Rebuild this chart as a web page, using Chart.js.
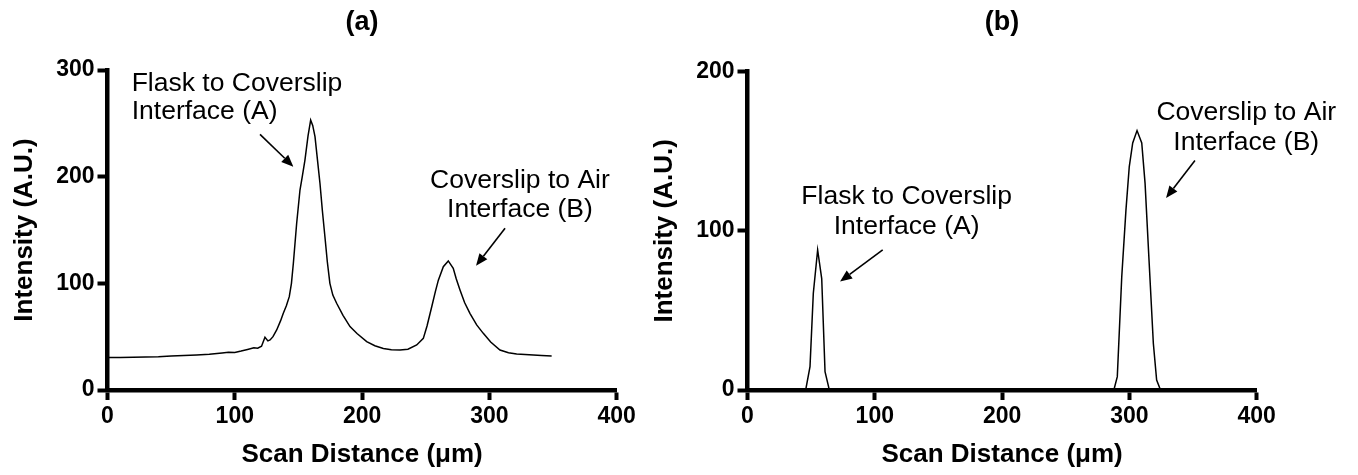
<!DOCTYPE html>
<html><head><meta charset="utf-8">
<script src="https://cdn.jsdelivr.net/npm/chart.js@4"></script>
<style>
html,body{margin:0;padding:0;background:#fff;width:1358px;height:475px;overflow:hidden}
.wrap{position:absolute;top:0;height:475px}
#wa{left:0;width:660px}#wb{left:640px;width:718px}
canvas{display:block}
</style></head><body>
<div class="wrap" id="wa"><canvas id="ca" width="660" height="475"></canvas></div>
<div class="wrap" id="wb"><canvas id="cb" width="718" height="475"></canvas></div>
<script>
// ---- data ----
const xTickValues = [0, 100, 200, 300, 400];
const aYTickValues = [0, 100, 200, 300];
const bYTickValues = [0, 100, 200];

// Panel (a): scan distance (µm) and intensity (A.U.)
const aX = [0, 10, 20, 30, 40, 50, 60, 70, 80, 90, 95, 100, 105, 110, 115, 118, 121, 123.7, 126, 127.7, 130, 132.9, 136, 138.1, 140.5, 142.8, 144.5, 146, 148.6, 151.2, 153, 155.1, 157.5, 159.6, 161.2, 163, 165, 166.9, 168.8, 170.8, 172.7, 174.7, 177, 180, 185, 190.5, 196, 203.6, 210, 216.7, 223, 229.8, 236, 242.9, 248.1, 251, 254.7, 257.5, 259.9, 263.8, 267.7, 271.6, 274, 276.9, 280.5, 284.7, 290, 295.2, 301, 308.3, 315, 321.4, 328, 334.5, 341, 348.9];
const aY = [30.5, 30.4, 30.8, 31, 31.2, 31.8, 32.3, 32.8, 33.5, 34.8, 35.5, 35.2, 36.5, 38, 39.5, 39.2, 41, 49.4, 46, 46.9, 50, 56.3, 65, 72, 79, 87.5, 100, 118.8, 156.3, 187.5, 200, 215.6, 238, 253, 248, 237.5, 215, 193.8, 168, 143.7, 120, 100, 89, 81.3, 70, 59.4, 53, 45.3, 41.5, 39, 37.8, 37.5, 38.2, 42.2, 48.4, 60, 78, 92, 103, 115.6, 121, 114.1, 104, 93.8, 82, 71.9, 61, 53.1, 45, 37.5, 35, 33.7, 33.2, 32.8, 32.3, 31.9];

// Panel (b)
const bX = [0, 45.7, 49.1, 51.7, 55.1, 58.3, 60.9, 64, 67.4, 100, 200, 288.1, 290.5, 294, 297.3, 299.9, 302.6, 306, 309.7, 312.3, 315.4, 318.8, 321.4, 324, 350];
const bY = [0, 0, 14.7, 60.8, 88, 70, 11.5, 1, 0.4, 0, 0, 1, 8.4, 71.3, 113.2, 140.4, 155.2, 163, 155.2, 130, 81.8, 29.4, 6.3, 1, 0];

const FONT = "'Liberation Sans', Arial, Helvetica, sans-serif";
Chart.defaults.font.family = FONT;
Chart.defaults.color = '#000';

const annotPlugin = {
  id: 'annot',
  afterDraw(chart, args, opts) {
    const ctx = chart.ctx, sx = chart.scales.x, sy = chart.scales.y;
    ctx.save();
    ctx.fillStyle = '#000';
    ctx.strokeStyle = '#000';
    ctx.font = "26.5px " + FONT;
    ctx.textBaseline = 'middle';
    for (const a of (opts.items || [])) {
      ctx.textAlign = a.align;
      a.lines.forEach((t, i) => ctx.fillText(t, sx.getPixelForValue(a.x), sy.getPixelForValue(a.y[i])));
      const x1 = sx.getPixelForValue(a.arrow[0]), y1 = sy.getPixelForValue(a.arrow[1]);
      const x2 = sx.getPixelForValue(a.arrow[2]), y2 = sy.getPixelForValue(a.arrow[3]);
      const ang = Math.atan2(y2 - y1, x2 - x1);
      const hl = 12, hw = 5;
      const bx = x2 - hl * Math.cos(ang), by = y2 - hl * Math.sin(ang);
      ctx.lineWidth = 1.6;
      ctx.beginPath(); ctx.moveTo(x1, y1); ctx.lineTo(bx, by); ctx.stroke();
      ctx.beginPath();
      ctx.moveTo(x2, y2);
      ctx.lineTo(bx + hw * Math.sin(ang), by - hw * Math.cos(ang));
      ctx.lineTo(bx - hw * Math.sin(ang), by + hw * Math.cos(ang));
      ctx.closePath(); ctx.fill();
    }
    ctx.restore();
  }
};

function makeChart(id, xs, ys, yMax, yTicks, title, titlePadBottom, padRight, items) {
  const data = xs.map((v, i) => ({x: v, y: ys[i]}));
  return new Chart(document.getElementById(id), {
    type: 'line',
    data: {datasets: [{data, borderColor: '#000', borderWidth: 1.5, pointRadius: 0, tension: 0, fill: false}]},
    options: {
      responsive: false,
      animation: false,
      layout: {padding: {left: 0, right: padRight, top: 0, bottom: 0}},
      plugins: {
        legend: {display: false},
        tooltip: {enabled: false},
        title: {display: true, text: title, fullSize: false, color: '#000',
                font: {size: 27, weight: 'bold'}, padding: {top: 6, bottom: titlePadBottom}},
        annot: {items}
      },
      scales: {
        x: {
          type: 'linear', min: 0, max: 400,
          afterBuildTicks: s => { s.ticks = xTickValues.map(v => ({value: v})); },
          afterFit: s => { s.height = 85; s.paddingLeft = 0; s.paddingRight = 0; },
          grid: {display: true, drawOnChartArea: false, drawTicks: true, tickLength: 10, tickWidth: 4, tickColor: '#000', color: '#000'},
          border: {display: true, width: 4.5, color: '#000'},
          ticks: {color: '#000', padding: 3, font: {size: 23, weight: 'bold'}, maxRotation: 0},
          title: {display: true, text: 'Scan Distance (\u03bcm)', color: '#000', font: {size: 26, weight: 'bold'}, padding: {top: 0, bottom: 5}}
        },
        y: {
          type: 'linear', min: 0, max: yMax,
          afterBuildTicks: s => { s.ticks = yTicks.map(v => ({value: v})); },
          afterFit: s => { s.width = 107.5; s.paddingTop = 0; s.paddingBottom = 0; },
          grid: {display: true, drawOnChartArea: false, drawTicks: true, tickLength: 10, tickWidth: 4, tickColor: '#000', color: '#000'},
          border: {display: true, width: 4.5, color: '#000'},
          ticks: {color: '#000', padding: 3, font: {size: 23, weight: 'bold'}},
          title: {display: true, text: 'Intensity (A.U.)', color: '#000', font: {size: 26, weight: 'bold'}, padding: {top: 9, bottom: 0}}
        }
      }
    },
    plugins: [annotPlugin]
  });
}

makeChart('ca', aX, aY, 300, aYTickValues, '(a)', 31.6, 43.3, [
  {lines: ['Flask to Coverslip', 'Interface (A)'], x: 19, y: [287.5, 261], align: 'left', arrow: [119.8, 239.7, 146, 209.4]},
  {lines: ['Coverslip to Air', 'Interface (B)'], x: 324, y: [196.2, 168.8], align: 'center', arrow: [312.3, 151.6, 289.5, 116.5]}
]);
makeChart('cb', bX, bY, 200, bYTickValues, '(b)', 33.3, 101.3, [
  {lines: ['Flask to Coverslip', 'Interface (A)'], x: 125, y: [121.6, 102.7], align: 'center', arrow: [106.2, 88, 72.7, 68.1]},
  {lines: ['Coverslip to Air', 'Interface (B)'], x: 391.8, y: [174, 155.2], align: 'center', arrow: [351.5, 144.2, 328.8, 120.6]}
]);
</script>
</body></html>
